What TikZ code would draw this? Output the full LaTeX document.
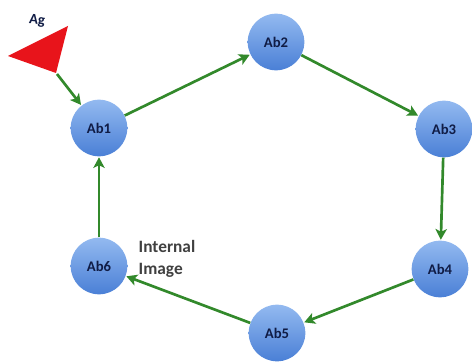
\documentclass[tikz,border=0pt]{standalone}
\usepackage{fontspec}
\setsansfont{Carlito}
\usepackage{tikz}
\usetikzlibrary{positioning}
\usetikzlibrary{arrows.meta}

\definecolor{abtop}{HTML}{93B9F0}
\definecolor{abbottom}{HTML}{4A80D6}
\definecolor{abtext}{HTML}{101C45}
\definecolor{linkgreen}{HTML}{32892B}
\definecolor{agred}{HTML}{E8141B}

\begin{document}
\begin{tikzpicture}[x=0.75pt, y=-0.75pt,
    ab/.style={circle, minimum size=42.5pt, inner sep=0pt,
        top color=abtop, bottom color=abbottom,
        font=\sffamily\bfseries\fontsize{11}{12}\selectfont, text=abtext},
    link/.style={-{Stealth[length=8pt, width=8.5pt, inset=2pt]},
        line width=2pt, linkgreen, shorten >=0.5pt}]
    \useasboundingbox (0,0) rectangle (473,363);

    \node[ab] (ab1) at (99,128) {Ab1};
    \node[ab] (ab2) at (276,42) {Ab2};
    \node[ab] (ab3) at (444,129) {Ab3};
    \node[ab] (ab4) at (440,269) {Ab4};
    \node[ab] (ab5) at (277,333) {Ab5};
    \node[ab] (ab6) at (99,266) {Ab6};

    \node[font=\sffamily\bfseries\fontsize{13}{16}\selectfont, text=black!75,
        align=left, anchor=west] (intimg) at (134,259) {Internal\\Image};

    % antigen
    \fill[agred] (8,56) -- (68,26) -- (56,73) -- cycle;
    \coordinate (agtip) at (57,74);
    \node[font=\sffamily\bfseries\fontsize{11}{12}\selectfont, text=abtext,
        rotate=-6] (ag) at (37,21) {Ag};

    \draw[link] (agtip) -- (ab1);
    \draw[link] (ab1) -- (ab2);
    \draw[link] (ab2) -- (ab3);
    \draw[link] (ab3) -- (ab4);
    \draw[link] (ab4) -- (ab5);
    \draw[link] (ab5) -- (ab6);
    \draw[link] (ab6) -- (ab1);
\end{tikzpicture}
\end{document}
